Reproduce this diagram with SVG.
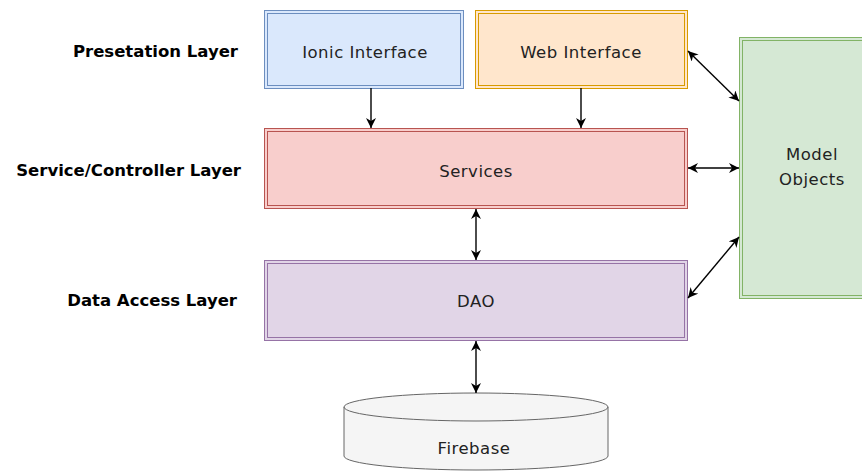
<svg xmlns="http://www.w3.org/2000/svg" width="862" height="471" viewBox="0 0 862 471">
<style>
.lbl{font-family:"DejaVu Sans",sans-serif;font-weight:bold;font-size:16.5px;fill:#000;text-anchor:end}
.nt{font-family:"Comic Sans MS","DejaVu Sans",sans-serif;font-size:16.5px;letter-spacing:0.5px;fill:#222;text-anchor:middle}
.conn line{stroke:#000;stroke-width:1.4;fill:none}
</style>
<defs>
<marker id="ah" viewBox="0 0 10 10" refX="10" refY="5" markerWidth="10" markerHeight="10" markerUnits="userSpaceOnUse" orient="auto-start-reverse">
<path d="M0,0 L10,5 L0,10 L3,5 Z" fill="#000"/>
</marker>
</defs>
<rect width="862" height="471" fill="#fff"/>
<g id="labels">
<text class="lbl" x="238" y="57">Presetation Layer</text>
<text class="lbl" x="241" y="176">Service/Controller Layer</text>
<text class="lbl" x="237" y="306">Data Access Layer</text>
</g>
<g id="ionic">
<rect x="264.5" y="10.5" width="199" height="78" fill="#dae8fc" stroke="#6c8ebf"/>
<rect x="267.5" y="13.5" width="193" height="72" fill="none" stroke="#6c8ebf"/>
<text class="nt" x="365" y="58">Ionic Interface</text>
</g>
<g id="web">
<rect x="475.5" y="10.5" width="212" height="78" fill="#ffe6cc" stroke="#d79b00"/>
<rect x="478.5" y="13.5" width="206" height="72" fill="none" stroke="#d79b00"/>
<text class="nt" x="581" y="58">Web Interface</text>
</g>
<g id="services">
<rect x="264.5" y="128.5" width="423" height="80" fill="#f8cecc" stroke="#b85450"/>
<rect x="267.5" y="131.5" width="417" height="74" fill="none" stroke="#b85450"/>
<text class="nt" x="476" y="177">Services</text>
</g>
<g id="dao">
<rect x="264.5" y="260.5" width="423" height="80" fill="#e1d5e7" stroke="#9673a6"/>
<rect x="267.5" y="263.5" width="417" height="74" fill="none" stroke="#9673a6"/>
<text class="nt" x="476" y="307">DAO</text>
</g>
<g id="model">
<rect x="739.5" y="37.5" width="150" height="261" fill="#d5e8d4" stroke="#82b366"/>
<rect x="742.5" y="40.5" width="144" height="255" fill="none" stroke="#82b366"/>
<text class="nt" x="812" y="160">Model</text>
<text class="nt" x="812" y="185">Objects</text>
</g>
<g id="firebase">
<path d="M344,407 A132,14 0 0 1 608,407 L608,456 A132,14 0 0 1 344,456 Z" fill="#f5f5f5" stroke="#666"/>
<path d="M344,407 A132,14 0 0 0 608,407" fill="none" stroke="#666"/>
<text class="nt" x="474" y="454">Firebase</text>
</g>
<g id="connectors" class="conn">
<line x1="371" y1="88" x2="371" y2="128" marker-end="url(#ah)"/>
<line x1="581" y1="88" x2="581" y2="128" marker-end="url(#ah)"/>
<line x1="476" y1="209" x2="476" y2="260" marker-start="url(#ah)" marker-end="url(#ah)"/>
<line x1="476" y1="341" x2="476" y2="393" marker-start="url(#ah)" marker-end="url(#ah)"/>
<line x1="688" y1="51" x2="739" y2="101" marker-start="url(#ah)" marker-end="url(#ah)"/>
<line x1="688" y1="168" x2="739" y2="168" marker-start="url(#ah)" marker-end="url(#ah)"/>
<line x1="739" y1="237" x2="688" y2="298" marker-start="url(#ah)" marker-end="url(#ah)"/>
</g>
</svg>
